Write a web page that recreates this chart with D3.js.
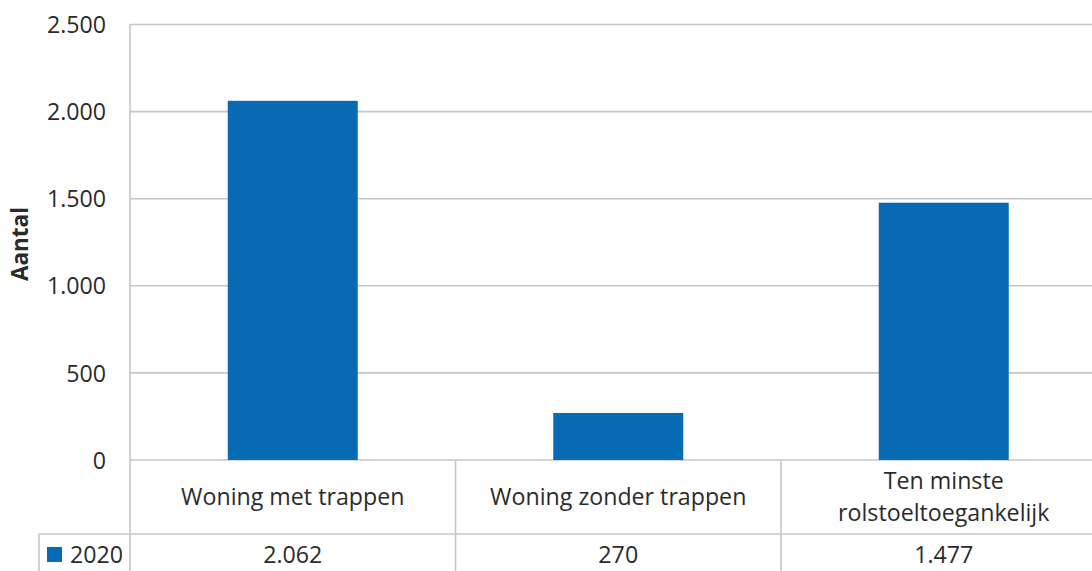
<!DOCTYPE html>
<html>
<head>
<meta charset="utf-8">
<script src="https://cdn.jsdelivr.net/npm/d3@7"></script>
<style>
  html, body { margin: 0; padding: 0; background: #fff; }
  svg { display: block; }
  text { font-family: "Open Sans", "Noto Sans", sans-serif; fill: #2b2b2b; }
</style>
</head>
<body>
<svg id="chart" width="1092" height="571"></svg>
<script>
// Aantal woningen per toegankelijkheidsklasse, 2020
const categories = ["Woning met trappen", "Woning zonder trappen", "Ten minste rolstoeltoegankelijk"];
const categoryLines = [["Woning met trappen"], ["Woning zonder trappen"], ["Ten minste", "rolstoeltoegankelijk"]];
const seriesName = "2020";
const values2020 = [2062, 270, 1477];
const valueLabels = ["2.062", "270", "1.477"];
const yTicks = [0, 500, 1000, 1500, 2000, 2500];
const yTickLabels = ["0", "500", "1.000", "1.500", "2.000", "2.500"];

const svg = d3.select("#chart");
const W = 1092, H = 571;
const plotLeft = 130, plotTop = 24.5, plotBottom = 460;
const bandW = 325.5;
const catRowBottom = 534;
const legendLeft = 39;
const barColor = "#0a6bb5";
const gridColor = "#c6c6c6";
const fontSize = 23.2;

const x = d3.scaleBand()
  .domain(categories)
  .range([plotLeft, plotLeft + bandW * categories.length])
  .paddingInner(0)
  .paddingOuter(0);

const y = d3.scaleLinear().domain([0, 2500]).range([plotBottom, plotTop]);

// Horizontal gridlines
svg.append("g")
  .selectAll("line")
  .data(yTicks)
  .join("line")
  .attr("x1", plotLeft).attr("x2", W)
  .attr("y1", d => y(d)).attr("y2", d => y(d))
  .attr("stroke", gridColor).attr("stroke-width", 1.6);

// Y axis labels
const yAxis = d3.axisLeft(y).tickValues(yTicks).tickFormat((d, i) => yTickLabels[i]).tickSize(0).tickPadding(0);
const gy = svg.append("g").attr("transform", `translate(${106},0)`).call(yAxis);
gy.select(".domain").remove();
gy.selectAll("text")
  .attr("font-size", fontSize)
  .attr("font-family", "'Open Sans', sans-serif")
  .attr("fill", "#2b2b2b")
  .attr("dy", "0.35em");

// Y axis title
svg.append("text")
  .attr("transform", `translate(28,${244}) rotate(-90)`)
  .attr("text-anchor", "middle")
  .attr("font-size", 22.5)
  .attr("font-weight", "bold")
  .text("Aantal");

// Bars
const barW = 130;
svg.append("g")
  .selectAll("rect")
  .data(values2020)
  .join("rect")
  .attr("x", (d, i) => x(categories[i]) + x.bandwidth() / 2 - barW / 2)
  .attr("width", barW)
  .attr("y", d => y(d))
  .attr("height", d => y(0) - y(d))
  .attr("fill", barColor);

// Data table lines
const tbl = svg.append("g").attr("stroke", gridColor).attr("stroke-width", 1.6);
const bounds = categories.map(c => x(c)).concat([x.range()[1]]);
tbl.selectAll("line.v")
  .data(bounds)
  .join("line")
  .attr("class", "v")
  .attr("x1", d => d).attr("x2", d => d)
  .attr("y1", (d, i) => i === 0 ? plotTop : plotBottom)
  .attr("y2", H);
tbl.append("line")
  .attr("x1", legendLeft).attr("x2", W)
  .attr("y1", catRowBottom).attr("y2", catRowBottom);
tbl.append("line")
  .attr("x1", legendLeft).attr("x2", legendLeft)
  .attr("y1", catRowBottom).attr("y2", H);

// Category labels
const catG = svg.append("g");
categoryLines.forEach((lines, i) => {
  const cx = x(categories[i]) + x.bandwidth() / 2;
  const cy = (plotBottom + catRowBottom) / 2;
  const lh = 32;
  lines.forEach((ln, j) => {
    catG.append("text")
      .attr("x", cx)
      .attr("y", cy + (j - (lines.length - 1) / 2) * lh)
      .attr("dy", "0.35em")
      .attr("text-anchor", "middle")
      .attr("font-size", fontSize)
      .text(ln);
  });
});

// Data row: legend key and values
const rowMid = 555;
svg.append("rect")
  .attr("x", 47).attr("y", rowMid - 8)
  .attr("width", 15).attr("height", 15)
  .attr("fill", barColor);
svg.append("text")
  .attr("x", 70).attr("y", rowMid)
  .attr("dy", "0.35em")
  .attr("font-size", fontSize)
  .text(seriesName);
svg.append("g")
  .selectAll("text")
  .data(valueLabels)
  .join("text")
  .attr("x", (d, i) => x(categories[i]) + x.bandwidth() / 2)
  .attr("y", rowMid)
  .attr("dy", "0.35em")
  .attr("text-anchor", "middle")
  .attr("font-size", fontSize)
  .text(d => d);
</script>
</body>
</html>
